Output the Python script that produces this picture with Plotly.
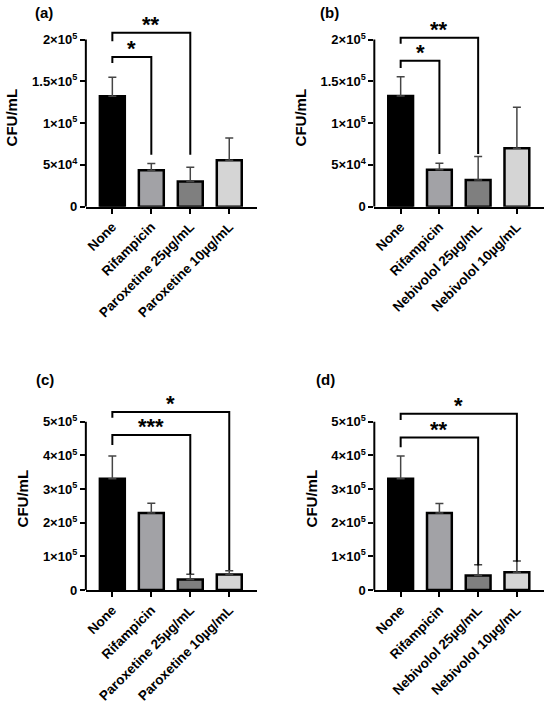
import plotly.graph_objects as go

# groups
groups_parox = ["None", "Rifampicin", "Paroxetine 25µg/mL", "Paroxetine 10µg/mL"]
groups_nebi = ["None", "Rifampicin", "Nebivolol 25µg/mL", "Nebivolol 10µg/mL"]

# mean CFU/mL and SD per panel
mean_a = [132000, 43500, 30000, 55500]
sd_a = [23000, 8000, 17000, 26500]
mean_b = [132500, 44000, 32000, 70000]
sd_b = [23000, 7800, 28000, 49000]
mean_c = [331000, 229000, 31000, 46000]
sd_c = [67000, 29000, 16000, 11000]
mean_d = [331000, 229000, 43000, 53000]
sd_d = [67000, 28000, 32000, 33000]

# significance brackets: (target group, stars, bracket level, left end, right end)
sig_a = [(1, "*", 179000, 172000, 62000), (2, "**", 208000, 198000, 62000)]
sig_b = [(1, "*", 174500, 166000, 63000), (2, "**", 202000, 195000, 63000)]
sig_c = [(2, "***", 461000, 431000, 47000), (3, "*", 529000, 512000, 59000)]
sig_d = [(2, "**", 453000, 424000, 73000), (3, "*", 524000, 505000, 84000)]

# y tick labels
ticks_small = [0, 50000, 100000, 150000, 200000]
ticktext_small = ["0", "5×10<sup>4</sup>", "1×10<sup>5</sup>", "1.5×10<sup>5</sup>", "2×10<sup>5</sup>"]
ticks_big = [0, 100000, 200000, 300000, 400000, 500000]
ticktext_big = ["0", "1×10<sup>5</sup>", "2×10<sup>5</sup>", "3×10<sup>5</sup>",
                "4×10<sup>5</sup>", "5×10<sup>5</sup>"]

bar_colors = ["#000000", "#a2a2a6", "#7f7f7f", "#d5d5d5"]

W, H = 550, 707
FONT = "Liberation Sans, Arial, sans-serif"

# tag, groups, means, sds, brackets, ticks, tick text, y max, plot box x (px), plot box y (px), tag pos (px)
panels = [
    ("(a)", groups_parox, mean_a, sd_a, sig_a, ticks_small, ticktext_small, 213000, (85, 256), (29, 209), (32, 13)),
    ("(b)", groups_nebi, mean_b, sd_b, sig_b, ticks_small, ticktext_small, 213000, (374, 544), (29, 209), (318, 13)),
    ("(c)", groups_parox, mean_c, sd_c, sig_c, ticks_big, ticktext_big, 543000, (85, 256), (412, 596.7), (33, 384)),
    ("(d)", groups_nebi, mean_d, sd_d, sig_d, ticks_big, ticktext_big, 543000, (374, 544), (412, 596.7), (314, 384)),
]

fig = go.Figure()
annotations = []
shapes = []

for i, (tag, cats, means, sds, sigs, tv, tt, ytop, (px0, px1), (py0, py1), (tx, ty)) in enumerate(panels):
    n = "" if i == 0 else str(i + 1)
    xa, ya = "x" + n, "y" + n

    fig.add_trace(go.Bar(
        x=cats, y=means, xaxis=xa, yaxis=ya, width=0.64,
        marker=dict(color=bar_colors, line=dict(color="black", width=2.5)),
        error_y=dict(type="data", array=sds, arrayminus=[0] * len(sds), symmetric=False,
                     color="#454545", thickness=1.5, width=4),
        showlegend=False,
    ))

    for k, stars, level, left_end, right_end in sigs:
        fig.add_trace(go.Scatter(
            x=[cats[0], cats[0], cats[k], cats[k]],
            y=[left_end, level, level, right_end],
            mode="lines", line=dict(color="black", width=2),
            xaxis=xa, yaxis=ya, showlegend=False, hoverinfo="skip",
        ))
        annotations.append(dict(
            x=k / 2, y=level, xref=xa, yref=ya, text=stars, showarrow=False,
            yanchor="bottom", yshift=-6,
            font=dict(family=FONT, size=22, color="black", weight="bold"),
        ))

    # y axis line only up to the last tick
    shapes.append(dict(type="line", xref=xa + " domain", yref=ya, x0=0, x1=0, y0=0, y1=tv[-1],
                       line=dict(color="black", width=2)))

    annotations.append(dict(
        x=tx / W, y=1 - ty / H, xref="paper", yref="paper", text=tag,
        showarrow=False, xanchor="left", yanchor="middle",
        font=dict(family=FONT, size=15, color="black", weight="bold"),
    ))

    fig.update_layout({
        ("xaxis" + n): dict(
            domain=[px0 / W, px1 / W], anchor=ya, range=[-0.68, 3.7],
            showline=True, linecolor="black", linewidth=2,
            ticks="outside", ticklen=5, tickwidth=2, tickcolor="black",
            tickangle=-45, showgrid=False, zeroline=False,
            tickfont=dict(family=FONT, size=13.5, color="black", weight="bold"),
        ),
        ("yaxis" + n): dict(
            domain=[1 - py1 / H, 1 - py0 / H], anchor=xa, range=[0, ytop],
            showline=False, ticks="outside", ticklen=5, tickwidth=2, tickcolor="black",
            tickvals=tv, ticktext=tt, showgrid=False, zeroline=False,
            tickfont=dict(family=FONT, size=13, color="black", weight="bold"),
            title=dict(text="CFU/mL", standoff=10,
                       font=dict(family=FONT, size=15, color="black", weight="bold")),
        ),
    })

fig.update_layout(
    width=W, height=H,
    margin=dict(l=0, r=0, t=0, b=0),
    paper_bgcolor="white", plot_bgcolor="white",
    annotations=annotations, shapes=shapes,
    showlegend=False,
)

fig.write_html("out.html", config={"displayModeBar": False},
               post_script="document.body.style.margin = '0';")
